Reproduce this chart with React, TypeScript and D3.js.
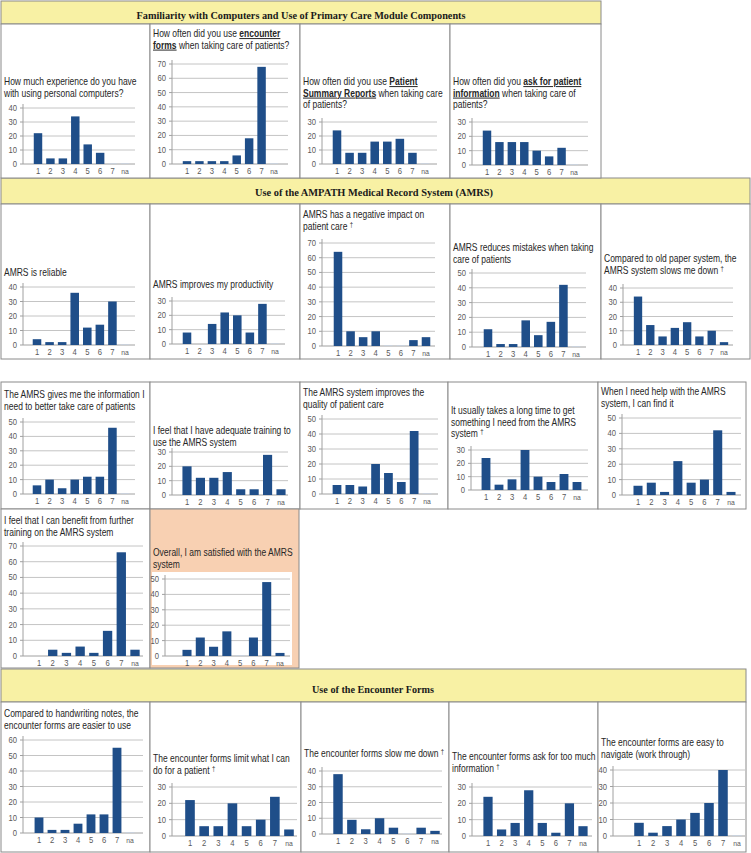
import React from 'react';
import * as d3 from 'd3';

const CATEGORIES = ['1', '2', '3', '4', '5', '6', '7', 'na'];

// Section headers
const HEADERS = [
  'Familiarity with Computers and Use of Primary Care Module Components',
  'Use of the AMPATH Medical Record System (AMRS)',
  'Use of the Encounter Forms',
];

// Series values (counts per response category 1..7, na)
const pcExperience = [22, 4, 4, 34, 14, 8, 0.5, 0.5];
const encounterFormsUse = [2, 2, 2, 2, 6, 18, 68, 0.5];
const summaryReportsUse = [24, 8, 8, 16, 16, 18, 8, 0.5];
const askPatientInfo = [24, 16, 16, 16, 10, 6, 12, 0.5];
const amrsReliable = [4, 2, 2, 36, 12, 14, 30, 0.5];
const amrsProductivity = [8, 0, 14, 22, 20, 8, 28, 0.5];
const amrsNegativeImpact = [64, 10, 6, 10, 0.5, 0.5, 4, 6];
const amrsReducesMistakes = [12, 2, 2, 18, 8, 17, 42, 0.5];
const amrsSlowsDown = [34, 14, 6, 12, 16, 6, 10, 2];
const amrsGivesInfo = [6, 10, 4, 10, 12, 12, 46, 0.5];
const adequateTraining = [20, 12, 12, 16, 4, 4, 28, 4];
const improvesQuality = [6, 6, 5, 20, 14, 8, 42, 0.5];
const takesLongTime = [24, 4, 8, 30, 10, 6, 12, 6];
const helpFindIt = [6, 8, 2, 22, 8, 10, 42, 2];
const furtherTraining = [0, 4, 2, 6, 2, 16, 66, 4];
const overallSatisfied = [4, 12, 6, 16, 0.5, 12, 48, 2];
const handwritingEasier = [10, 2, 2, 6, 12, 12, 55, 0.5];
const formsLimit = [22, 6, 6, 20, 6, 10, 24, 4];
const formsSlowDown = [38, 9, 3, 10, 4, 0.5, 4, 2];
const formsTooMuchInfo = [24, 4, 8, 28, 8, 2, 20, 6];
const formsEasyNavigate = [8, 2, 6, 10, 14, 20, 40, 0.5];

// Axis maxima (tick labels every 10)
const AXIS_MAX = [40, 70, 30, 30, 40, 30, 70, 50, 40, 50, 30, 50, 30, 50, 70, 50, 60, 30, 40, 30, 40];

// Titles: lines of segments; "b" = bold underlined, "d" = dagger
type Seg = { t: string; s?: 'b' | 'd' };
const TITLES: Seg[][][] = [
  [[{ t: 'How much experience do you have' }], [{ t: 'with using personal computers?' }]],
  [[{ t: 'How often did you use ' }, { t: 'encounter', s: 'b' }], [{ t: 'forms', s: 'b' }, { t: ' when taking care of patients?' }]],
  [[{ t: 'How often did you use ' }, { t: 'Patient', s: 'b' }], [{ t: 'Summary Reports', s: 'b' }, { t: ' when taking care' }], [{ t: 'of patients?' }]],
  [[{ t: 'How often did you ' }, { t: 'ask for patient', s: 'b' }], [{ t: 'information', s: 'b' }, { t: ' when taking care of' }], [{ t: 'patients?' }]],
  [[{ t: 'AMRS is reliable' }]],
  [[{ t: 'AMRS improves my productivity' }]],
  [[{ t: 'AMRS has a negative impact on' }], [{ t: 'patient care ' }, { t: '†', s: 'd' }]],
  [[{ t: 'AMRS reduces mistakes when taking' }], [{ t: 'care of patients' }]],
  [[{ t: 'Compared to old paper system, the' }], [{ t: 'AMRS system slows me down ' }, { t: '†', s: 'd' }]],
  [[{ t: 'The AMRS gives me the information I' }], [{ t: 'need to better take care of patients' }]],
  [[{ t: 'I feel that I have adequate training to' }], [{ t: 'use the AMRS system' }]],
  [[{ t: 'The AMRS system improves the' }], [{ t: 'quality of patient care' }]],
  [[{ t: 'It usually takes a long time to get' }], [{ t: 'something I need from the AMRS' }], [{ t: 'system ' }, { t: '†', s: 'd' }]],
  [[{ t: 'When I need help with the AMRS' }], [{ t: 'system, I can find it' }]],
  [[{ t: 'I feel that I can benefit from further' }], [{ t: 'training on the AMRS system' }]],
  [[{ t: 'Overall, I am satisfied with the AMRS' }], [{ t: 'system' }]],
  [[{ t: 'Compared to handwriting notes, the' }], [{ t: 'encounter forms are easier to use' }]],
  [[{ t: 'The encounter forms limit what I can' }], [{ t: 'do for a patient ' }, { t: '†', s: 'd' }]],
  [[{ t: 'The encounter forms slow me down ' }, { t: '†', s: 'd' }]],
  [[{ t: 'The encounter forms ask for too much' }], [{ t: 'information ' }, { t: '†', s: 'd' }]],
  [[{ t: 'The encounter forms are easy to' }], [{ t: 'navigate (work through)' }]],
];

const SERIES = [
  pcExperience, encounterFormsUse, summaryReportsUse, askPatientInfo,
  amrsReliable, amrsProductivity, amrsNegativeImpact, amrsReducesMistakes, amrsSlowsDown,
  amrsGivesInfo, adequateTraining, improvesQuality, takesLongTime, helpFindIt,
  furtherTraining, overallSatisfied,
  handwritingEasier, formsLimit, formsSlowDown, formsTooMuchInfo, formsEasyNavigate,
];

// Layout (positions only)
type L = { x: number; y: number; w: number; h: number; ax: number; ge: number; yt: number; y0: number; c1: number; c8: number; ty: number; fill?: string };
const LAYOUT: L[] = [
  { x: 1, y: 24, w: 149, h: 154, ax: 23, ge: 135, yt: 108, y0: 164, c1: 38, c8: 125, ty: 85 },
  { x: 150, y: 24, w: 150, h: 154, ax: 172, ge: 288, yt: 64, y0: 164, c1: 187, c8: 274, ty: 37 },
  { x: 300, y: 24, w: 150, h: 154, ax: 322, ge: 437, yt: 122, y0: 164, c1: 337, c8: 425, ty: 85 },
  { x: 450, y: 24, w: 151, h: 154, ax: 472, ge: 588, yt: 122, y0: 165, c1: 487, c8: 574, ty: 85 },
  { x: 1, y: 204, w: 149, h: 155, ax: 23, ge: 135, yt: 287, y0: 345, c1: 37, c8: 125, ty: 276 },
  { x: 150, y: 204, w: 150, h: 155, ax: 172, ge: 285, yt: 301, y0: 344, c1: 187, c8: 275, ty: 288 },
  { x: 300, y: 204, w: 150, h: 155, ax: 322, ge: 435, yt: 243, y0: 346, c1: 338, c8: 426, ty: 218 },
  { x: 450, y: 204, w: 151, h: 155, ax: 472, ge: 586, yt: 273, y0: 347, c1: 488, c8: 576, ty: 251 },
  { x: 601, y: 204, w: 149, h: 155, ax: 623, ge: 733, yt: 288, y0: 345, c1: 638, c8: 724, ty: 262 },
  { x: 1, y: 382, w: 149, h: 127, ax: 23, ge: 135, yt: 422, y0: 494, c1: 37, c8: 125, ty: 398 },
  { x: 150, y: 382, w: 150, h: 127, ax: 172, ge: 288, yt: 452, y0: 495, c1: 187, c8: 281, ty: 434 },
  { x: 300, y: 382, w: 148, h: 127, ax: 322, ge: 438, yt: 419, y0: 494, c1: 337, c8: 427, ty: 396 },
  { x: 448, y: 382, w: 150, h: 127, ax: 471, ge: 588, yt: 450, y0: 490, c1: 486, c8: 577, ty: 414 },
  { x: 598, y: 382, w: 148, h: 127, ax: 622, ge: 741, yt: 418, y0: 495, c1: 638, c8: 731, ty: 395 },
  { x: 1, y: 509, w: 149, h: 159, ax: 23, ge: 143, yt: 546, y0: 656, c1: 39, c8: 135, ty: 524 },
  { x: 150, y: 509, w: 149, h: 159, ax: 165, ge: 290, yt: 579, y0: 656, c1: 187, c8: 280, ty: 556, fill: '#f8d0b2' },
  { x: 1, y: 702, w: 149, h: 150, ax: 23, ge: 143, yt: 740, y0: 833, c1: 39, c8: 130, ty: 717 },
  { x: 150, y: 702, w: 151, h: 150, ax: 172, ge: 297, yt: 787, y0: 836, c1: 190, c8: 289, ty: 762 },
  { x: 301, y: 702, w: 148, h: 150, ax: 322, ge: 442, yt: 771, y0: 834, c1: 338, c8: 435, ty: 757 },
  { x: 449, y: 702, w: 149, h: 150, ax: 472, ge: 592, yt: 787, y0: 836, c1: 488, c8: 583, ty: 760 },
  { x: 598, y: 702, w: 148, h: 150, ax: 613, ge: 745, yt: 770, y0: 836, c1: 639, c8: 737, ty: 746 },
];

const HEADER_BOXES = [
  { x: 1, y: 1, w: 600, h: 23, tx: 301, ty: 18.5, tl: 329 },
  { x: 1, y: 178, w: 749, h: 26, tx: 374, ty: 195.5, tl: 238 },
  { x: 1, y: 669, w: 745, h: 33, tx: 373, ty: 693, tl: 122 },
];

const BAR = '#1f4e89';
const GRID = '#c4c4c4';
const BORDER = '#8a8a8a';
const SANS = '"Liberation Sans", Arial, sans-serif';
const SX = 0.85;

function Panel({ i }: { i: number }) {
  const L = LAYOUT[i];
  const vals = SERIES[i];
  const max = AXIS_MAX[i];
  const y = d3.scaleLinear().domain([0, max]).range([L.y0, L.yt]);
  const step = (L.c8 - L.c1) / 7;
  const x = d3.scaleBand<string>().domain(CATEGORIES).range([L.c1 - step / 2, L.c8 + step / 2]).paddingInner(0.32).paddingOuter(0.16);
  const ticks = d3.range(0, max + 1, 10);
  return (
    <g>
      <rect x={L.x} y={L.y} width={L.w} height={L.h} fill={L.fill || '#fff'} stroke={BORDER} strokeWidth={1} />
      {L.fill && <rect x={152} y={572} width={140} height={93} fill="#fff" />}
      {TITLES[i].map((line, li) => (
        <text key={li} transform={`translate(${L.x + 3},${L.ty + li * 11.5}) scale(${SX},1)`} fontFamily={SANS} fontSize={10} fill="#262626">
          {line.map((sg, k) =>
            sg.s === 'b' ? (
              <tspan key={k} fontWeight="bold" textDecoration="underline">{sg.t}</tspan>
            ) : sg.s === 'd' ? (
              <tspan key={k} fontSize={7} dy={-3}>{sg.t}</tspan>
            ) : (
              <tspan key={k}>{sg.t}</tspan>
            )
          )}
        </text>
      ))}
      {ticks.map((t) => (
        <g key={t}>
          <line x1={L.ax} x2={L.ge} y1={y(t)} y2={y(t)} stroke={t === 0 ? '#a0a0a0' : GRID} strokeWidth={1} />
          <line x1={L.ax - 3} x2={L.ax} y1={y(t)} y2={y(t)} stroke="#a0a0a0" strokeWidth={1} />
          <text transform={`translate(${L.ax - 6},${y(t) + 3}) scale(${SX},1)`} textAnchor="end" fontFamily={SANS} fontSize={9} fill="#595959">{t}</text>
        </g>
      ))}
      <line x1={L.ax} x2={L.ax} y1={L.yt - 4} y2={L.y0} stroke="#a0a0a0" strokeWidth={1} />
      {vals.map((v, k) => (
        <rect key={k} x={x(CATEGORIES[k])!} width={x.bandwidth()} y={y(v)} height={Math.max(0, L.y0 - y(v))} fill={v < 1 ? '#c8d2e0' : BAR} />
      ))}
      {CATEGORIES.map((c) => (
        <text key={c} transform={`translate(${x(c)! + x.bandwidth() / 2},${L.y0 + 10}) scale(${SX},1)`} textAnchor="middle" fontFamily={SANS} fontSize={c === 'na' ? 8 : 9} fill="#595959">{c}</text>
      ))}
    </g>
  );
}

export default function App() {
  return (
    <svg width={751} height={853} style={{ position: 'absolute', left: 0, top: 0 }} xmlns="http://www.w3.org/2000/svg">
      <rect x={0} y={0} width={751} height={853} fill="#fff" />
      {HEADER_BOXES.map((h, i) => (
        <g key={i}>
          <rect x={h.x} y={h.y} width={h.w} height={h.h} fill="#f8f1a4" stroke={BORDER} strokeWidth={1} />
          <text x={h.tx} y={h.ty} textAnchor="middle" fontFamily='"Liberation Serif", "Times New Roman", serif' fontWeight="bold" fontSize={10.5} fill="#1a1a1a" textLength={h.tl} lengthAdjust="spacingAndGlyphs">{HEADERS[i]}</text>
        </g>
      ))}
      {LAYOUT.map((_, i) => (
        <Panel key={i} i={i} />
      ))}
    </svg>
  );
}
